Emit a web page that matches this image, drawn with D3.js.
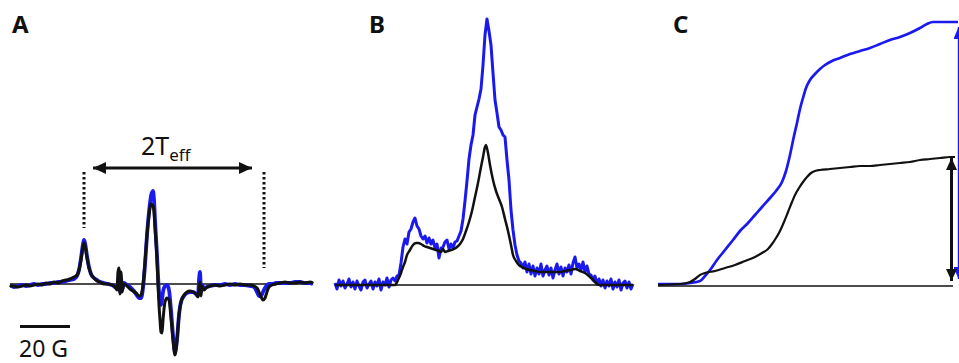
<!DOCTYPE html>
<html>
<head>
<meta charset="utf-8">
<script src="https://cdn.jsdelivr.net/npm/d3@7"></script>
<style>
  body { margin: 0; background: #fff; }
  svg { display: block; }
  text { font-family: "Noto Sans", "DejaVu Sans", sans-serif; fill: #111; }
</style>
</head>
<body>
<svg id="chart" width="959" height="363"></svg>
<script>
// field in G, amplitude in a.u.
const panelLabels = ['A', 'B', 'C'];
const scaleBarLabel = '20 G';

// A: first-derivative spectra [field, amplitude]
const aBlue = [[0,-1],[1.6,-3],[3.2,-2],[4.8,-1],[6.4,-2],[8,-1],[9.6,0],[11.2,-1],[12.8,0],[14.4,0],[16,1],[17.6,1],[19.2,2],[20.8,2],[22.4,3],[24,4],[25.6,5],[26.8,8],[27.6,14],[28.4,26],[29.2,40],[29.6,44],[30,41],[30.8,28],[31.6,17],[32.4,10],[33.6,6],[34.8,4],[36,2],[37.6,1],[39.2,0],[40.8,-1],[42,-3],[42.8,-4],[43.2,0],[43.6,8],[44,-8],[44.4,6],[44.8,-6],[45.6,1],[46.8,-1],[48,-3],[49.2,-6],[50.4,-10],[51.6,-14],[52.4,-14],[53.2,-4],[54,19],[54.8,49],[55.6,72],[56.4,88],[57.2,93],[57.6,84],[58,64],[58.8,29],[59.2,9],[59.6,-8],[60,-18],[60.4,-21],[60.8,-16],[61.2,-8],[62,-2],[62.8,-1],[63.6,-6],[64.4,-26],[65.2,-51],[66,-68],[66.8,-56],[67.6,-31],[68.4,-18],[69.6,-12],[70.8,-9],[72,-8],[73.2,-8],[74.4,-10],[75.2,-12],[75.6,4],[76,12],[76.4,-6],[76.8,-1],[77.6,-4],[78.8,-3],[80,-2],[82,-1],[84,-1],[86,0],[88,-1],[90,0],[92,-1],[94,-1],[96,-2],[97.6,-3],[98.8,-8],[99.6,-12],[100.4,-12],[101.2,-8],[102,-4],[102.8,-1],[103.6,0],[104.8,0],[106.4,1],[108,1],[110,1],[112,1],[114,2],[116,2],[118,1],[120,1],[121.2,0]];
const aBlack = [[0,-2],[1.6,-2],[3.2,-3],[4.8,-2],[6.4,-1],[8,-2],[9.6,-1],[11.2,0],[12.8,-1],[14.4,1],[16,0],[17.6,2],[19.2,1],[20.8,3],[22.4,4],[24,5],[25.6,7],[26.8,9],[27.6,14],[28.4,24],[29.2,37],[29.6,41],[30,38],[30.8,26],[31.6,16],[32.4,10],[33.6,6],[34.8,3],[36,2],[37.6,0],[39.2,0],[40.8,-1],[42,-3],[42.8,-6],[43.2,12],[43.6,16],[44,-10],[44.4,12],[44.8,-8],[45.6,0],[46.8,-2],[48,-5],[49.2,-7],[50.4,-9],[51.6,-12],[52.4,-11],[53.2,-1],[54,22],[54.8,49],[55.6,69],[56.4,80],[57.2,78],[57.6,72],[58,56],[58.8,24],[59.2,-1],[59.6,-21],[60,-36],[60.4,-48],[60.8,-49],[61.2,-36],[62,-18],[62.8,-14],[63.6,-16],[64.4,-34],[65.2,-56],[66,-71],[66.8,-56],[67.6,-31],[68.4,-18],[69.6,-11],[70.8,-8],[72,-7],[73.2,-8],[74.4,-10],[75.2,-13],[75.6,-6],[76,2],[76.4,-12],[76.8,-2],[77.6,-6],[78.8,-3],[80,-2],[82,-1],[84,-2],[86,-1],[88,0],[90,-1],[92,0],[94,-1],[96,-1],[97.6,-2],[98.8,-4],[99.6,-8],[100.4,-13],[101.2,-16],[102,-14],[102.8,-8],[103.6,-3],[104.8,-1],[106.4,0],[108,1],[110,2],[112,1],[114,1],[116,2],[118,1],[120,2],[121.2,1]];
const aPeakFields = [29.6, 101.6];     // dotted markers
const aPeakLow = [56, 16];             // bottom end of each dotted marker
const aMarkerTop = 112;
const aArrow = [33.2, 96.8];           // 2Teff arrow tips
const aArrowLevel = 116;
const aScaleBar = [4, 24];             // 20 G

// B: absorption spectra
const bBlue = [[0,2],[0.8,-4],[1.6,5],[2.4,-1],[3.2,4],[4,-3],[4.8,1],[5.6,6],[6.4,-2],[7.2,3],[8,-4],[8.8,4],[9.6,-1],[10.4,-5],[11.2,3],[12,5],[12.8,-3],[13.6,1],[14.4,4],[15.2,-4],[16,3],[16.8,-1],[17.6,6],[18.4,-5],[19.2,3],[20,0],[20.8,7],[21.6,-2],[22.4,5],[23.2,7],[24,4],[24.8,9],[25.6,10],[26.4,22],[27.2,38],[28,46],[28.8,41],[29.6,53],[30.4,56],[31.2,63],[32,67],[32.8,59],[33.6,56],[34.4,49],[35.2,46],[36,49],[36.8,42],[37.6,47],[38.4,41],[39.2,45],[40,37],[40.8,41],[41.6,27],[42.4,37],[43.2,38],[44,43],[44.8,45],[45.6,36],[46.4,41],[47.2,37],[48,43],[48.8,44],[49.6,49],[50.4,54],[51.2,66],[52,84],[52.8,104],[53.6,126],[54.4,140],[55.2,150],[56,170],[56.8,178],[57.6,186],[58.4,196],[59.2,220],[60,250],[60.8,266],[61.6,254],[62.4,240],[63.2,212],[64,185],[64.8,172],[65.6,158],[66.4,155],[67.2,150],[68,148],[68.8,125],[69.6,105],[70.4,75],[71.2,55],[72,40],[72.8,30],[73.6,24],[74.4,22],[75.2,17],[76,23],[76.8,13],[77.6,21],[78.4,11],[79.2,19],[80,9],[80.8,17],[81.6,11],[82.4,21],[83.2,9],[84,15],[84.8,19],[85.6,10],[86.4,17],[87.2,7],[88,15],[88.8,21],[89.6,11],[90.4,18],[91.2,9],[92,17],[92.8,13],[93.6,20],[94.4,11],[95.2,22],[96,28],[96.8,17],[97.6,21],[98.4,15],[99.2,23],[100,13],[100.8,19],[101.6,11],[102.4,10],[103.2,5],[104,9],[104.8,1],[105.6,6],[106.4,-1],[107.2,5],[108,-3],[108.8,4],[109.6,-1],[110.4,6],[111.2,-4],[112,3],[112.8,-2],[113.6,5],[114.4,-5],[115.2,2],[116,4],[116.8,-3],[117.6,3],[118.4,-4],[119.2,1]];
const bBlack = [[0,0],[24,0],[25.2,5],[26.4,12],[27.2,18],[28,23],[28.8,30],[30,35],[31.2,40],[32.4,42],[33.2,42],[34.4,41],[35.6,39],[36.8,38],[38,37],[39.2,36],[40.4,35],[41.6,34],[42.4,33],[43.2,36],[44,33],[45.2,34],[46.4,35],[47.6,36],[48.8,38],[50,41],[51.2,46],[52.4,54],[53.6,63],[54.8,74],[56,88],[57.2,102],[58.4,118],[59.2,128],[60,138],[60.4,140],[61.2,132],[62,120],[63.2,105],[64.4,94],[65.6,86],[66.8,78],[68,66],[69.2,54],[70.4,40],[71.2,30],[72.4,24],[73.6,20],[74.8,18],[76.4,16],[78,15],[80,14],[82,13],[86,13],[90,13],[92,14],[94,15],[96,16],[98,14],[100,12],[102,8],[103.6,4],[104.8,1],[106,0],[119.2,0]];

// C: double integrals
const cBlue = [[0,2],[4.8,2],[8.8,2],[12.8,3],[16.8,5],[18.8,10],[20.8,16],[23.6,26],[26.8,36],[30,46],[32.8,55],[36,63],[38.8,71],[41.6,79],[44.8,88],[47.2,95],[49.6,104],[51.2,115],[52.8,131],[54.4,150],[55.6,163],[56.8,177],[58,188],[59.2,198],[60.8,206],[62.8,212],[64.8,217],[66.8,221],[69.6,225],[72.8,228],[76.8,232],[80.8,235],[84.8,238],[88.8,242],[92.8,246],[96.8,249],[100.8,253],[104.8,258],[107.6,262],[110,264],[114.8,264],[120,264]];
const cBlack = [[0,1],[8.8,2],[12.8,4],[14.8,7],[16.8,11],[18.8,13],[22.8,15],[26.8,18],[30.8,21],[34.8,25],[38.8,29],[41.6,33],[44,37],[45.6,42],[47.2,48],[48.8,55],[50.4,64],[52,74],[53.6,84],[54.8,91],[56.4,98],[58,104],[59.6,109],[61.2,113],[62.8,115],[64.8,116],[68.8,117],[72.8,118],[76.8,119],[80.8,120],[84.8,120],[88.8,121],[92.8,122],[96.8,123],[100.8,124],[104.8,126],[108.8,127],[112.8,128],[116.8,129],[118.8,129]];
const cBlackArrow = [117.4, 128, 5];
const cBlueArrow = [120.2, 259, 7];

const BLUE = '#1a1aee', BLACK = '#111';

const svg = d3.select('#chart');

const defs = svg.append('defs');
function marker(id, color, len, half) {
  defs.append('marker')
    .attr('id', id)
    .attr('viewBox', `0 0 ${len} ${half * 2}`)
    .attr('refX', len).attr('refY', half)
    .attr('markerWidth', len).attr('markerHeight', half * 2)
    .attr('markerUnits', 'userSpaceOnUse')
    .attr('orient', 'auto-start-reverse')
    .append('path')
    .attr('d', `M0,0L${len},${half}L0,${half * 2}Z`)
    .attr('fill', color);
}
marker('headA', BLACK, 13, 6);
marker('headC', BLACK, 12, 5.5);
marker('headCb', BLUE, 12, 5);

// scales
const xA = d3.scaleLinear().domain([0, 120]).range([10, 310]);
const yA = d3.scaleLinear().domain([0, 100]).range([284, 184]);
const xB = d3.scaleLinear().domain([0, 120]).range([335, 635]);
const yB = d3.scaleLinear().domain([0, 100]).range([285, 185]);
const xC = d3.scaleLinear().domain([0, 120]).range([658, 958]);
const yC = d3.scaleLinear().domain([0, 100]).range([286, 186]);

function baseline(x, y, x0, x1) {
  svg.append('line')
    .attr('x1', x(x0)).attr('x2', x(x1))
    .attr('y1', y(0)).attr('y2', y(0))
    .attr('stroke', BLACK).attr('stroke-width', 1.4);
}
function trace(data, x, y, color, w, curve) {
  svg.append('path')
    .datum(data)
    .attr('fill', 'none')
    .attr('stroke', color)
    .attr('stroke-width', w)
    .attr('stroke-linejoin', 'round')
    .attr('d', d3.line().x(d => x(d[0])).y(d => y(d[1])).curve(curve));
}

// ---- A ----
baseline(xA, yA, 0, 121.2);
trace(aBlue, xA, yA, BLUE, 3.8, d3.curveMonotoneX);
trace(aBlack, xA, yA, BLACK, 3, d3.curveMonotoneX);

svg.selectAll('.peak')
  .data(aPeakFields)
  .enter().append('line')
  .attr('x1', d => xA(d)).attr('x2', d => xA(d))
  .attr('y1', yA(aMarkerTop))
  .attr('y2', (d, i) => yA(aPeakLow[i]))
  .attr('stroke', BLACK).attr('stroke-width', 3)
  .attr('stroke-dasharray', '2.6 2.4');

svg.append('line')
  .attr('x1', xA(aArrow[0])).attr('x2', xA(aArrow[1]))
  .attr('y1', yA(aArrowLevel)).attr('y2', yA(aArrowLevel))
  .attr('stroke', BLACK).attr('stroke-width', 2.8)
  .attr('marker-start', 'url(#headA)').attr('marker-end', 'url(#headA)');

const teff = svg.append('text')
  .attr('x', 141).attr('y', 155)
  .style('font-size', '25px');
teff.append('tspan').text('2T');
teff.append('tspan').attr('dy', 6).style('font-size', '17px').text('eff');

svg.append('line')
  .attr('x1', xA(aScaleBar[0])).attr('x2', xA(aScaleBar[1]))
  .attr('y1', 326.5).attr('y2', 326.5)
  .attr('stroke', BLACK).attr('stroke-width', 2.8);
svg.append('text')
  .attr('x', xA(aScaleBar[0]) - 1).attr('y', 357)
  .style('font-size', '23px')
  .text(scaleBarLabel);

// ---- B ----
baseline(xB, yB, 0, 119.2);
trace(bBlue, xB, yB, BLUE, 3, d3.curveLinear);
trace(bBlack, xB, yB, BLACK, 2.5, d3.curveMonotoneX);

// ---- C ----
baseline(xC, yC, 0, 118);
trace(cBlue, xC, yC, BLUE, 2.7, d3.curveMonotoneX);
trace(cBlack, xC, yC, BLACK, 2.2, d3.curveMonotoneX);

svg.append('line')
  .attr('x1', xC(cBlueArrow[0])).attr('x2', xC(cBlueArrow[0]))
  .attr('y1', yC(cBlueArrow[1])).attr('y2', yC(cBlueArrow[2]))
  .attr('stroke', BLUE).attr('stroke-width', 1.4)
  .attr('marker-start', 'url(#headCb)').attr('marker-end', 'url(#headCb)');
svg.append('line')
  .attr('x1', xC(cBlackArrow[0])).attr('x2', xC(cBlackArrow[0]))
  .attr('y1', yC(cBlackArrow[1])).attr('y2', yC(cBlackArrow[2]))
  .attr('stroke', BLACK).attr('stroke-width', 3)
  .attr('marker-start', 'url(#headC)').attr('marker-end', 'url(#headC)');

// panel letters
svg.selectAll('.panel')
  .data(panelLabels)
  .enter().append('text')
  .attr('x', (d, i) => [12, 369, 673][i])
  .attr('y', 33)
  .style('font-size', '24px')
  .style('font-weight', 'bold')
  .text(d => d);
</script>
</body>
</html>
